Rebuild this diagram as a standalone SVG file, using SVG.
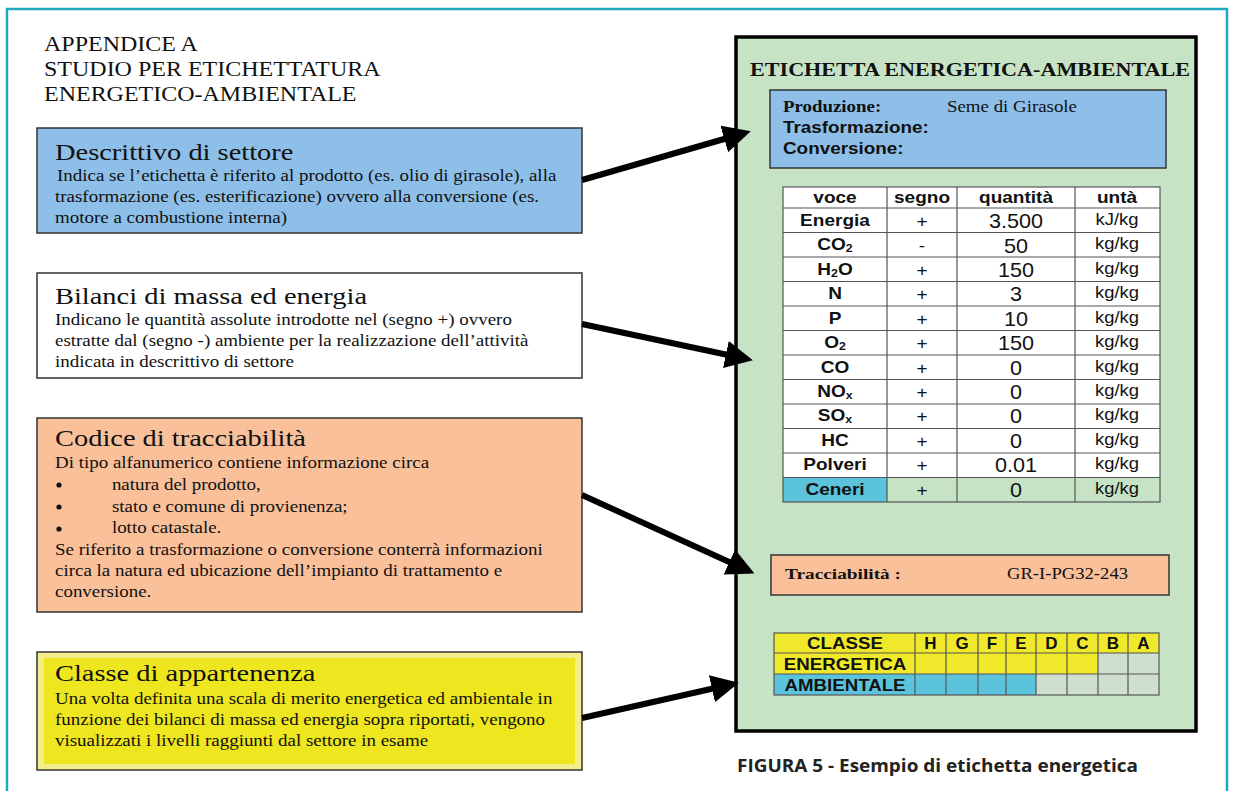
<svg xmlns="http://www.w3.org/2000/svg" width="1233" height="791" viewBox="0 0 1233 791">
<style>
.tm{font-family:"Liberation Serif","Times New Roman",serif;fill:#111}
.ar{font-family:"Liberation Sans",Arial,sans-serif;fill:#111}
.h{font-size:24px}
.b{font-size:16px}
.tt{font-size:20px}
.box{stroke:#333;stroke-width:1.5}
.cell{stroke:#555;stroke-width:1.2}
.th{font-family:"Liberation Sans",Arial,sans-serif;font-weight:bold;font-size:17px;fill:#111;text-anchor:middle}
.td{font-family:"Liberation Sans",Arial,sans-serif;font-size:17px;fill:#111;text-anchor:middle}
.tu{font-family:"Liberation Sans",Arial,sans-serif;font-size:16px;fill:#111;text-anchor:middle}
.tq{font-family:"Liberation Sans",Arial,sans-serif;font-size:20px;fill:#111;text-anchor:middle}
.cl{font-family:"Liberation Sans",Arial,sans-serif;font-weight:bold;font-size:17px;fill:#111;text-anchor:middle}
.conn{stroke:#000;stroke-width:6;fill:none;marker-end:url(#ah)}
</style>
<defs>
<marker id="ah" markerWidth="4.6" markerHeight="4.6" refX="3.6" refY="2.3" orient="auto" markerUnits="strokeWidth">
<path d="M0,0 L4.6,2.3 L0,4.6 Z" fill="#000"/>
</marker>
</defs>
<rect x="0" y="0" width="1233" height="791" fill="#fff"/>
<path d="M7,791 V9 H1227 V791" fill="none" stroke="#1fa9bf" stroke-width="2.5"/>

<g id="title" transform="translate(44,0) scale(1.2,1)">
<text class="tm tt" x="0" y="51">APPENDICE A</text>
<text class="tm tt" x="0" y="76">STUDIO PER ETICHETTATURA</text>
<text class="tm tt" x="0" y="101">ENERGETICO-AMBIENTALE</text>
</g>

<g id="descrittivo">
<rect class="box" x="37" y="128" width="545" height="105" fill="#8ebfe8"/>
<g transform="translate(55,0) scale(1.185,1)">
<text class="tm h" x="0" y="160">Descrittivo di settore</text>
<text class="tm b" x="1.7" y="181">Indica se l’etichetta è riferito al prodotto (es. olio di girasole), alla</text>
<text class="tm b" x="0" y="202">trasformazione (es. esterificazione) ovvero alla conversione (es.</text>
<text class="tm b" x="0" y="223">motore a combustione interna)</text>
</g>
</g>

<g id="bilanci">
<rect class="box" x="37" y="273" width="545" height="105" fill="#fff"/>
<g transform="translate(55,0) scale(1.185,1)">
<text class="tm h" x="0" y="304">Bilanci di massa ed energia</text>
<text class="tm b" x="0" y="325">Indicano le quantità assolute introdotte nel (segno +) ovvero</text>
<text class="tm b" x="0" y="346">estratte dal (segno -) ambiente per la realizzazione dell’attività</text>
<text class="tm b" x="0" y="367">indicata in descrittivo di settore</text>
</g>
</g>

<g id="codice">
<rect class="box" x="37" y="418" width="545" height="194" fill="#f9c09a"/>
<circle cx="59" cy="485" r="2.6" fill="#111"/>
<circle cx="59" cy="507" r="2.6" fill="#111"/>
<circle cx="59" cy="529" r="2.6" fill="#111"/>
<g transform="translate(55,0) scale(1.185,1)">
<text class="tm h" x="0" y="446">Codice di tracciabilità</text>
<text class="tm b" x="0" y="468">Di tipo alfanumerico contiene informazione circa</text>
<text class="tm b" x="48" y="490">natura del prodotto,</text>
<text class="tm b" x="48" y="512">stato e comune di provienenza;</text>
<text class="tm b" x="48" y="533">lotto catastale.</text>
<text class="tm b" x="0" y="555">Se riferito a trasformazione o conversione conterrà informazioni</text>
<text class="tm b" x="0" y="576">circa la natura ed ubicazione dell’impianto di trattamento e</text>
<text class="tm b" x="0" y="597">conversione.</text>
</g>
</g>

<g id="classe">
<rect class="box" x="37" y="652" width="545" height="118" fill="#f2ee8a"/>
<rect x="44" y="658" width="531" height="106" fill="#eee61e"/>
<g transform="translate(55,0) scale(1.185,1)">
<text class="tm h" x="0" y="681">Classe di appartenenza</text>
<text class="tm b" x="0" y="704">Una volta definita una scala di merito energetica ed ambientale in</text>
<text class="tm b" x="0" y="725">funzione dei bilanci di massa ed energia sopra riportati, vengono</text>
<text class="tm b" x="0" y="746">visualizzati i livelli raggiunti dal settore in esame</text>
</g>
</g>

<g id="etichetta">
<rect x="736" y="37" width="460" height="694" fill="#c6e4c5" stroke="#000" stroke-width="3.5"/>
<text class="tm" x="750" y="76" font-size="19.5" font-weight="bold" textLength="440" lengthAdjust="spacingAndGlyphs">ETICHETTA ENERGETICA-AMBIENTALE</text>
</g>

<g id="settore">
<rect class="box" x="770" y="90" width="396" height="78" fill="#8ebfe8"/>
<g transform="translate(783,0) scale(1.18,1)">
<text class="tm" x="0" y="112" font-size="16" font-weight="bold">Produzione:</text>
<text class="tm" x="139" y="112" font-size="16">Seme di Girasole</text>
<text class="ar" x="0" y="133" font-size="16" font-weight="bold">Trasformazione:</text>
<text class="ar" x="0" y="154" font-size="16" font-weight="bold">Conversione:</text>
</g>
</g>

<g id="tabella">
<rect x="783" y="187" width="377" height="291" fill="#fff"/>
<rect x="783" y="478" width="377" height="24" fill="#c6e4c5"/>
<rect x="783" y="478" width="104" height="24" fill="#5bc3dc"/>
<g class="cell" fill="none">
<rect x="783" y="187" width="377" height="315"/>
<path d="M887,187 V502 M957,187 V502 M1075,187 V502"/>
<path d="M783,208 H1160 M783,232.5 H1160 M783,257 H1160 M783,281.5 H1160 M783,306 H1160 M783,330.5 H1160 M783,355 H1160 M783,379.5 H1160 M783,404 H1160 M783,428.5 H1160 M783,453 H1160 M783,477.5 H1160"/>
</g>
<g transform="translate(835,0) scale(1.12,1)">
<text class="th" x="0" y="203">voce</text>
<text class="th" x="0" y="226">Energia</text>
<text class="th" x="0" y="250">CO<tspan font-size="11" dy="2">2</tspan></text>
<text class="th" x="0" y="275">H<tspan font-size="11" dy="2">2</tspan><tspan dy="-2">O</tspan></text>
<text class="th" x="0" y="299">N</text>
<text class="th" x="0" y="324">P</text>
<text class="th" x="0" y="348">O<tspan font-size="11" dy="2">2</tspan></text>
<text class="th" x="0" y="373">CO</text>
<text class="th" x="0" y="397">NO<tspan font-size="11" dy="2">x</tspan></text>
<text class="th" x="0" y="421">SO<tspan font-size="11" dy="2">x</tspan></text>
<text class="th" x="0" y="446">HC</text>
<text class="th" x="0" y="470">Polveri</text>
<text class="th" x="0" y="495">Ceneri</text>
</g>
<g transform="translate(922,0) scale(1.12,1)">
<text class="th" x="0" y="203">segno</text>
<text class="td" x="0" y="227">+</text>
<text class="td" x="0" y="251">-</text>
<text class="td" x="0" y="276">+</text>
<text class="td" x="0" y="300">+</text>
<text class="td" x="0" y="325">+</text>
<text class="td" x="0" y="349">+</text>
<text class="td" x="0" y="374">+</text>
<text class="td" x="0" y="398">+</text>
<text class="td" x="0" y="422">+</text>
<text class="td" x="0" y="447">+</text>
<text class="td" x="0" y="471">+</text>
<text class="td" x="0" y="496">+</text>
</g>
<g transform="translate(1016,0) scale(1.12,1)">
<text class="th" x="0" y="203">quantità</text>
</g>
<g transform="translate(1016,0) scale(1.08,1)">
<text class="tq" x="0" y="228">3.500</text>
<text class="tq" x="0" y="253">50</text>
<text class="tq" x="0" y="277">150</text>
<text class="tq" x="0" y="301">3</text>
<text class="tq" x="0" y="326">10</text>
<text class="tq" x="0" y="350">150</text>
<text class="tq" x="0" y="375">0</text>
<text class="tq" x="0" y="399">0</text>
<text class="tq" x="0" y="423">0</text>
<text class="tq" x="0" y="448">0</text>
<text class="tq" x="0" y="472">0.01</text>
<text class="tq" x="0" y="497">0</text>
</g>
<g transform="translate(1117,0) scale(1.12,1)">
<text class="th" x="0" y="203">untà</text>
</g>
<g transform="translate(1117,0) scale(1.15,1)">
<text class="tu" x="0" y="225">kJ/kg</text>
<text class="tu" x="0" y="249">kg/kg</text>
<text class="tu" x="0" y="274">kg/kg</text>
<text class="tu" x="0" y="298">kg/kg</text>
<text class="tu" x="0" y="323">kg/kg</text>
<text class="tu" x="0" y="347">kg/kg</text>
<text class="tu" x="0" y="372">kg/kg</text>
<text class="tu" x="0" y="396">kg/kg</text>
<text class="tu" x="0" y="420">kg/kg</text>
<text class="tu" x="0" y="445">kg/kg</text>
<text class="tu" x="0" y="469">kg/kg</text>
<text class="tu" x="0" y="494">kg/kg</text>
</g>
</g>

<g id="tracciabilita">
<rect class="box" x="771" y="555" width="398" height="40" fill="#f9c09a"/>
<text class="tm" x="785" y="579" font-size="15" font-weight="bold" textLength="116" lengthAdjust="spacingAndGlyphs">Tracciabilità :</text>
<text class="tm" x="1007" y="579" font-size="16" textLength="121" lengthAdjust="spacingAndGlyphs">GR-I-PG32-243</text>
</g>

<g id="classi">
<rect x="774" y="633" width="385" height="20" fill="#f0e82a"/>
<rect x="774" y="653" width="323" height="21" fill="#f0e82a"/>
<rect x="1097" y="653" width="62" height="21" fill="#cfdfcf"/>
<rect x="774" y="674" width="262" height="21" fill="#5bc3dc"/>
<rect x="1036" y="674" width="123" height="21" fill="#cfdfcf"/>
<g class="cell" fill="none">
<rect x="774" y="633" width="385" height="62"/>
<path d="M774,653 H1159 M774,674 H1159"/>
<path d="M915,633 V695 M946,633 V695 M978,633 V695 M1006,633 V695 M1036,633 V695 M1067,633 V695 M1098,633 V695 M1128,633 V695"/>
</g>
<g transform="translate(845,0) scale(1.1,1)">
<text class="cl" x="0" y="649">CLASSE</text>
<text class="cl" x="0" y="670">ENERGETICA</text>
<text class="cl" x="0" y="691">AMBIENTALE</text>
</g>
<text class="cl" x="930.5" y="649">H</text>
<text class="cl" x="962" y="649">G</text>
<text class="cl" x="992" y="649">F</text>
<text class="cl" x="1021" y="649">E</text>
<text class="cl" x="1051.5" y="649">D</text>
<text class="cl" x="1082.5" y="649">C</text>
<text class="cl" x="1113" y="649">B</text>
<text class="cl" x="1143.5" y="649">A</text>
</g>

<g id="didascalia">
<text x="737" y="772" font-family="'Open Sans','DejaVu Sans',sans-serif" font-weight="bold" font-size="18" fill="#222" textLength="401" lengthAdjust="spacingAndGlyphs">FIGURA 5 - Esempio di etichetta energetica</text>
</g>

<g id="connectors">
<path class="conn" d="M582,180 L745,133"/>
<path class="conn" d="M582,324 L747,359"/>
<path class="conn" d="M582,495 L749,571"/>
<path class="conn" d="M582,718 L733,684"/>
</g>
</svg>
